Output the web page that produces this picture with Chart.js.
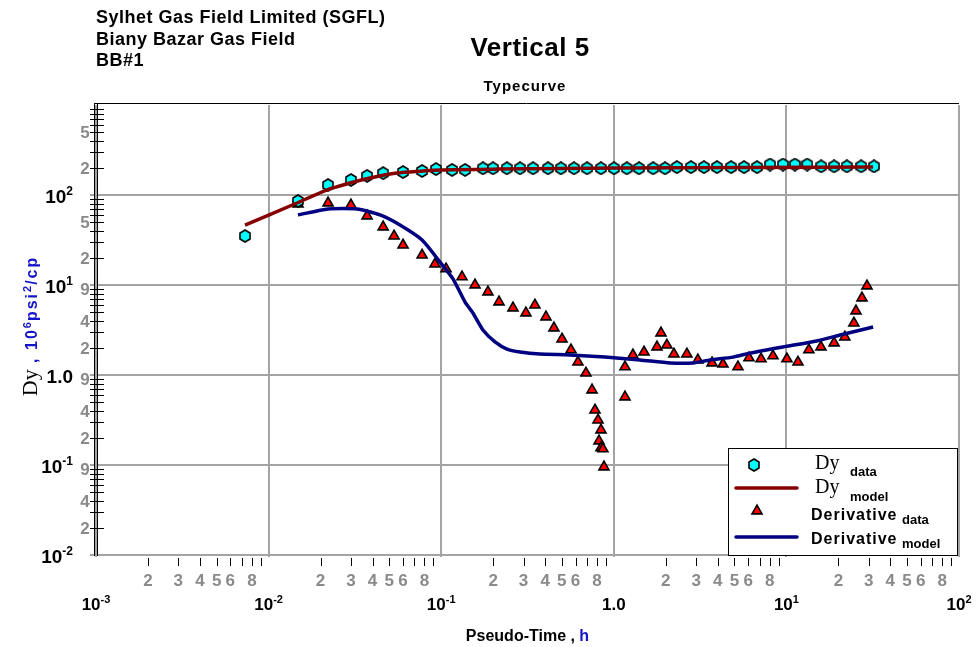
<!DOCTYPE html>
<html>
<head>
<meta charset="utf-8">
<script src="https://cdn.jsdelivr.net/npm/chart.js@4/dist/chart.umd.min.js"></script>
<style>
  html, body { margin: 0; padding: 0; background: #ffffff; }
  #wrap { width: 977px; height: 647px; position: relative; }
</style>
</head>
<body>
<div id="wrap"><canvas id="c" width="977" height="647"></canvas></div>
<script>
// Pseudo-time (h) and Dy (10^6 psi^2/cp) for well BB#1
const dyDataTime = [0.0073, 0.0148, 0.0221, 0.0300, 0.0372, 0.0461, 0.0601, 0.0775, 0.0933, 0.1156,
  0.1375, 0.1746, 0.1995, 0.2403, 0.2863, 0.3404, 0.416, 0.494, 0.588, 0.700,
  0.843, 1.003, 1.19, 1.40, 1.69, 1.98, 2.32, 2.80, 3.33, 3.96,
  4.78, 5.68, 6.76, 8.04, 9.55, 11.2, 13.2, 15.9, 18.9, 22.4,
  27.1, 32.2];
const dyDataValue = [35.0, 85.8, 129, 147, 163, 175, 180, 185, 194, 190,
  190, 198, 198, 198, 198, 198, 198, 198, 198, 198,
  198, 198, 198, 198, 198, 198, 204, 204, 204, 204,
  204, 204, 204, 218, 218, 218, 218, 208, 208, 208,
  208, 208];

const dyModelTime = [0.0073, 0.0146, 0.0217, 0.0296, 0.0387, 0.0553, 0.0783, 0.0983, 0.218, 1.08, 6.1, 31.8];
const dyModelValue = [46.4, 81.5, 113.6, 136, 154.6, 175.5, 185, 190, 194, 199, 202, 205];

const derivDataTime = [0.0148, 0.0221, 0.0300, 0.0372, 0.0461, 0.0533, 0.0601, 0.0775, 0.0920, 0.1067,
  0.132, 0.157, 0.1866, 0.2163, 0.2606, 0.3097, 0.349, 0.4045, 0.450, 0.501,
  0.565, 0.620, 0.690, 0.748, 0.778, 0.810, 0.843, 0.821, 0.843, 0.865,
  0.877, 1.161, 1.161, 1.291, 1.496, 1.779, 1.877, 2.03, 2.23, 2.65,
  3.07, 3.71, 4.29, 5.24, 6.07, 7.13, 8.36, 10.07, 11.67, 13.5,
  15.85, 18.9, 21.8, 24.6, 25.3, 27.4, 29.3];
const derivDataValue = [79.4, 81.5, 77.4, 58.4, 44.1, 35.0, 27.8, 21.5, 17.1, 15.1,
  12.3, 10.0, 8.36, 6.47, 5.55, 4.89, 5.99, 4.41, 3.33, 2.51,
  1.90, 1.39, 1.05, 0.681, 0.408, 0.316, 0.245, 0.185, 0.155, 0.151,
  0.095, 0.570, 1.23, 1.67, 1.80, 2.05, 2.93, 2.15, 1.71, 1.71,
  1.47, 1.36, 1.32, 1.23, 1.55, 1.51, 1.63, 1.51, 1.39, 1.90,
  2.05, 2.27, 2.64, 3.78, 5.14, 7.17, 9.75];

const derivModelTime = [0.0148, 0.0221, 0.0325, 0.0442, 0.0577, 0.0775, 0.0984, 0.117, 0.1375, 0.1527,
  0.1746, 0.205, 0.2403, 0.2863, 0.373, 0.557, 0.889, 1.42, 2.12, 2.88,
  3.61, 4.91, 6.15, 9.55, 15.0, 20.5, 31.8];
const derivModelValue = [60.0, 69.9, 69.9, 60.0, 46.4, 31.6, 18.0, 11.7, 6.47, 4.89,
  3.16, 2.33, 1.94, 1.80, 1.71, 1.67, 1.58, 1.47, 1.36, 1.36,
  1.47, 1.58, 1.75, 2.05, 2.39, 2.78, 3.41];

// Axis ticks
const xDecades = [0.001, 0.01, 0.1, 1, 10, 100];
const xDecadeLabels = [['10', '-3'], ['10', '-2'], ['10', '-1'], ['1.0', ''], ['10', '1'], ['10', '2']];
const xMinorDigits = [2, 3, 4, 5, 6, 8];
const yDecades = [0.01, 0.1, 1, 10, 100, 1000];
const yDecadeLabels = [['10', '-2'], ['10', '-1'], ['1.0', ''], ['10', '1'], ['10', '2'], null];
const yMinorDigits = [[2, 4, 9], [2, 4, 9], [2, 4, 9], [2, 5], [2, 5]];

// Text
const headerLines = ['Sylhet Gas Field Limited (SGFL)', 'Biany Bazar Gas Field', 'BB#1'];
const chartTitle = 'Vertical 5';
const chartSubtitle = 'Typecurve';

const SANS = '"Liberation Sans", Arial, sans-serif';
const SERIF = '"Liberation Serif", "Times New Roman", serif';
const BLUE = '#1414c8';
const GRID = '#a4a4a4';
const MINOR_LABEL = '#8a8a8a';

function pairs(xs, ys) { return xs.map((v, i) => ({ x: v, y: ys[i] })); }

function hexMarker() {
  const c = document.createElement('canvas');
  c.width = 12; c.height = 14;
  const g = c.getContext('2d');
  g.beginPath();
  g.moveTo(6, 1); g.lineTo(11, 4); g.lineTo(11, 10);
  g.lineTo(6, 13); g.lineTo(1, 10); g.lineTo(1, 4);
  g.closePath();
  g.fillStyle = '#00ffff'; g.fill();
  g.lineWidth = 1.6; g.strokeStyle = '#000'; g.stroke();
  return c;
}
const hexImg = hexMarker();

function textWithSup(ctx, base, sup, x, y, align, baseFont, supFont, rise, color) {
  ctx.font = baseFont;
  const wb = ctx.measureText(base).width;
  ctx.font = supFont;
  const ws = sup ? ctx.measureText(sup).width : 0;
  let sx = x;
  if (align === 'center') sx = x - (wb + ws) / 2;
  else if (align === 'right') sx = x - wb - ws;
  ctx.fillStyle = color;
  ctx.textAlign = 'left';
  ctx.font = baseFont;
  ctx.fillText(base, sx, y);
  if (sup) { ctx.font = supFont; ctx.fillText(sup, sx + wb, y - rise); }
}

function hline(ctx, x1, x2, y) { ctx.beginPath(); ctx.moveTo(x1, y); ctx.lineTo(x2, y); ctx.stroke(); }
function vline(ctx, x, y1, y2) { ctx.beginPath(); ctx.moveTo(x, y1); ctx.lineTo(x, y2); ctx.stroke(); }

const framePlugin = {
  id: 'logFrame',
  beforeDatasetsDraw(chart) {
    const { ctx, chartArea: a, scales: { x, y } } = chart;
    ctx.save();
    ctx.strokeStyle = GRID; ctx.lineWidth = 2;
    xDecades.forEach(v => {
      const px = Math.round(x.getPixelForValue(v));
      vline(ctx, px, a.top, a.bottom + 2);
    });
    yDecades.slice(0, -1).forEach(v => {
      const py = Math.round(y.getPixelForValue(v));
      hline(ctx, a.left - 6, a.right, py);
    });
    ctx.restore();
  },
  afterDatasetsDraw(chart) {
    const { ctx, chartArea: a, scales: { x, y } } = chart;
    ctx.save();
    ctx.strokeStyle = '#000'; ctx.lineWidth = 1;
    // top edge and doubled left axis
    hline(ctx, a.left - 2, a.right, a.top - 1.5);
    vline(ctx, a.left - 1.5, a.top - 2, a.bottom + 1);
    vline(ctx, a.left + 1.5, a.top - 2, a.bottom + 1);
    // minor ticks on the y axis
    for (let d = 0; d < yDecades.length - 1; d++) {
      for (let k = 2; k <= 9; k++) {
        const py = Math.round(y.getPixelForValue(yDecades[d] * k)) + 0.5;
        hline(ctx, a.left - 6, a.left + 8, py);
      }
    }
    // minor ticks below the x axis
    for (let d = 0; d < xDecades.length - 1; d++) {
      for (let k = 2; k <= 9; k++) {
        const px = Math.round(x.getPixelForValue(xDecades[d] * k)) + 0.5;
        vline(ctx, px, a.bottom + 3, a.bottom + 11);
      }
    }
    ctx.restore();
  },
  afterDraw(chart) {
    const { ctx, chartArea: a, scales: { x, y } } = chart;
    ctx.save();
    ctx.textBaseline = 'alphabetic';

    // x axis labels
    ctx.textAlign = 'center';
    ctx.font = 'bold 17px ' + SANS;
    ctx.fillStyle = MINOR_LABEL;
    for (let d = 0; d < xDecades.length - 1; d++) {
      xMinorDigits.forEach(k => {
        ctx.fillText(String(k), x.getPixelForValue(xDecades[d] * k), a.bottom + 31);
      });
    }
    xDecades.forEach((v, i) => {
      const [b, s] = xDecadeLabels[i];
      textWithSup(ctx, b, s, x.getPixelForValue(v), a.bottom + 55, 'center',
        'bold 17px ' + SANS, 'bold 11px ' + SANS, 7, '#000');
    });

    // y axis labels
    ctx.textAlign = 'center';
    ctx.font = 'bold 17px ' + SANS;
    ctx.fillStyle = MINOR_LABEL;
    yMinorDigits.forEach((digits, d) => {
      digits.forEach(k => {
        ctx.fillText(String(k), a.left - 11, y.getPixelForValue(yDecades[d] * k) + 6);
      });
    });
    yDecades.forEach((v, i) => {
      const lab = yDecadeLabels[i];
      if (!lab) return;
      textWithSup(ctx, lab[0], lab[1], a.left - 23, y.getPixelForValue(v) + 8, 'right',
        'bold 19px ' + SANS, 'bold 12px ' + SANS, 8, '#000');
    });

    // x axis title
    ctx.font = 'bold 16px ' + SANS;
    const t1 = 'Pseudo-Time , ';
    const w1 = ctx.measureText(t1).width;
    const w2 = ctx.measureText('h').width;
    const cx = (a.left + a.right) / 2;
    ctx.textAlign = 'left';
    ctx.fillStyle = '#000';
    ctx.fillText(t1, cx - (w1 + w2) / 2, 641);
    ctx.fillStyle = BLUE;
    ctx.fillText('h', cx - (w1 + w2) / 2 + w1, 641);

    // y axis title, rotated
    const parts = [
      { t: 'Dy', f: '22px ' + SERIF, c: '#000', r: 0, s: '0px' },
      { t: ' , ', f: 'bold 16px ' + SANS, c: BLUE, r: 0, s: '2px' },
      { t: '10', f: 'bold 16px ' + SANS, c: BLUE, r: 0, s: '2px' },
      { t: '6', f: 'bold 11px ' + SANS, c: BLUE, r: 6, s: '1px' },
      { t: 'psi', f: 'bold 16px ' + SANS, c: BLUE, r: 0, s: '2px' },
      { t: '2', f: 'bold 11px ' + SANS, c: BLUE, r: 6, s: '1px' },
      { t: '/cp', f: 'bold 16px ' + SANS, c: BLUE, r: 0, s: '2px' }
    ];
    let total = 0;
    parts.forEach(p => {
      ctx.font = p.f; ctx.letterSpacing = p.s;
      p.w = ctx.measureText(p.t).width; total += p.w;
    });
    ctx.translate(37, 326);
    ctx.rotate(-Math.PI / 2);
    let px = -total / 2;
    parts.forEach(p => {
      ctx.font = p.f; ctx.letterSpacing = p.s; ctx.fillStyle = p.c;
      ctx.fillText(p.t, px, -p.r);
      px += p.w;
    });
    ctx.letterSpacing = '0px';
    ctx.setTransform(1, 0, 0, 1, 0, 0);

    // header block and titles
    ctx.fillStyle = '#000';
    ctx.textAlign = 'left';
    ctx.font = 'bold 18px ' + SANS;
    ctx.letterSpacing = '0.5px';
    headerLines.forEach((line, i) => ctx.fillText(line, 96, 23 + i * 21.5));
    ctx.textAlign = 'center';
    ctx.font = 'bold 26px ' + SANS;
    ctx.fillText(chartTitle, 530, 56);
    ctx.font = 'bold 15px ' + SANS;
    ctx.letterSpacing = '1px';
    ctx.fillText(chartSubtitle, 525, 91);
    ctx.letterSpacing = '0px';

    // legend
    const L = { left: 728, top: 448, right: 958, bottom: 556 };
    ctx.fillStyle = '#fff';
    ctx.fillRect(L.left, L.top, L.right - L.left, L.bottom - L.top);
    ctx.strokeStyle = '#000'; ctx.lineWidth = 1;
    ctx.strokeRect(L.left + 0.5, L.top + 0.5, L.right - L.left - 1, L.bottom - L.top - 1);
    const ds = chart.data.datasets;
    ctx.drawImage(hexImg, 754 - hexImg.width / 2, 465 - hexImg.height / 2);
    ctx.lineCap = 'round';
    ctx.strokeStyle = ds[0].borderColor; ctx.lineWidth = ds[0].borderWidth;
    hline(ctx, 736, 797, 488);
    ctx.strokeStyle = ds[1].borderColor; ctx.lineWidth = ds[1].borderWidth;
    hline(ctx, 736, 797, 537);
    // triangle marker
    const tr = ds[3].pointRadius;
    ctx.beginPath();
    ctx.moveTo(757, 511 - tr);
    ctx.lineTo(757 + tr * 0.866, 511 + tr * 0.5);
    ctx.lineTo(757 - tr * 0.866, 511 + tr * 0.5);
    ctx.closePath();
    ctx.fillStyle = ds[3].backgroundColor; ctx.fill();
    ctx.lineWidth = ds[3].borderWidth; ctx.strokeStyle = '#000'; ctx.lineJoin = 'miter'; ctx.stroke();

    ctx.textAlign = 'left';
    ctx.fillStyle = '#000';
    ctx.font = '20px ' + SERIF;
    ctx.fillText('Dy', 815, 469);
    ctx.fillText('Dy', 815, 493);
    ctx.font = 'bold 13px ' + SANS;
    ctx.fillText('data', 850, 476);
    ctx.fillText('model', 850, 501);
    ctx.font = 'bold 16px ' + SANS;
    ctx.letterSpacing = '1px';
    ctx.fillText('Derivative', 811, 520);
    ctx.fillText('Derivative', 811, 544);
    ctx.letterSpacing = '0px';
    ctx.font = 'bold 13px ' + SANS;
    ctx.fillText('data', 902, 524);
    ctx.fillText('model', 902, 548);
    ctx.restore();
  }
};

new Chart(document.getElementById('c'), {
  type: 'scatter',
  data: {
    datasets: [
      {
        label: 'Dy model', data: pairs(dyModelTime, dyModelValue), showLine: true,
        borderColor: '#850000', borderWidth: 3.5, pointRadius: 0, tension: 0.3, order: 0
      },
      {
        label: 'Derivative model', data: pairs(derivModelTime, derivModelValue), showLine: true,
        borderColor: '#000080', borderWidth: 3.5, pointRadius: 0, tension: 0.2, order: 0
      },
      {
        label: 'Dy data', data: pairs(dyDataTime, dyDataValue), showLine: false,
        pointStyle: hexImg, pointRadius: 6, order: 1
      },
      {
        label: 'Derivative data', data: pairs(derivDataTime, derivDataValue), showLine: false,
        pointStyle: 'triangle', pointRadius: 5.8, backgroundColor: '#ff0000',
        borderColor: '#000000', borderWidth: 1.6, order: 1
      }
    ]
  },
  options: {
    responsive: false,
    animation: false,
    devicePixelRatio: 1,
    layout: { padding: { left: 96, top: 105, right: 18, bottom: 92 } },
    plugins: { legend: { display: false }, tooltip: { enabled: false } },
    scales: {
      x: { type: 'logarithmic', min: 0.001, max: 100, display: false },
      y: { type: 'logarithmic', min: 0.01, max: 1000, display: false }
    }
  },
  plugins: [framePlugin]
});
</script>
</body>
</html>
